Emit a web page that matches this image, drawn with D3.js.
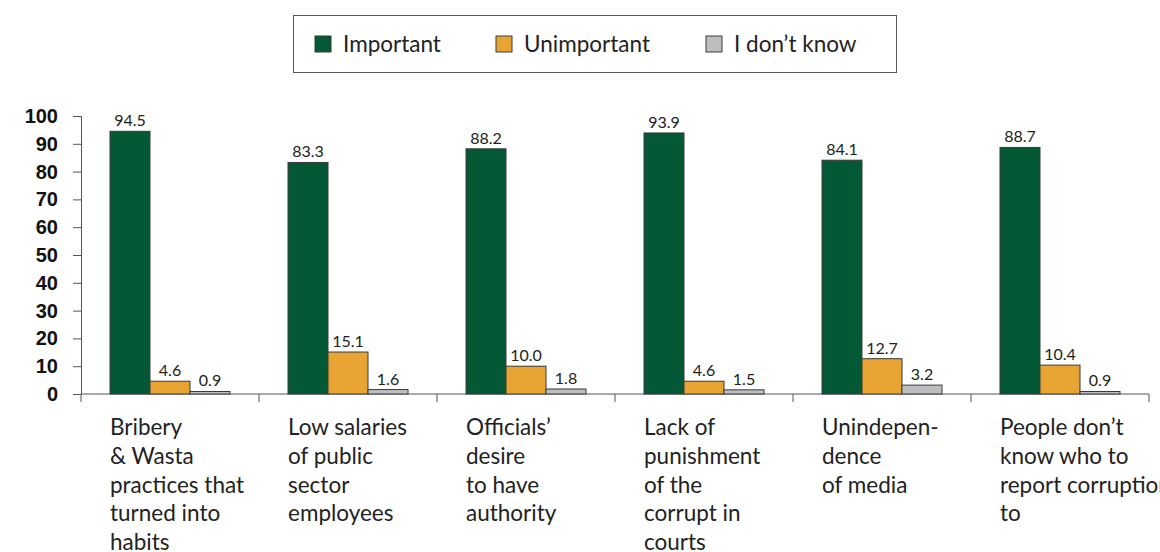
<!DOCTYPE html>
<html>
<head>
<meta charset="utf-8">
<script src="https://cdn.jsdelivr.net/npm/d3@7"></script>
<style>
  html, body { margin: 0; padding: 0; background: #fff; }
  svg { display: block; }
</style>
</head>
<body>
<svg id="chart" width="1160" height="552"></svg>
<script>
// Reasons for corruption: share of respondents rating each as important
const categories = [
  ["Bribery", "& Wasta", "practices that", "turned into", "habits"],
  ["Low salaries", "of public", "sector", "employees"],
  ["Officials\u2019", "desire", "to have", "authority"],
  ["Lack of", "punishment", "of the", "corrupt in", "courts"],
  ["Unindepen-", "dence", "of media"],
  ["People don\u2019t", "know who to", "report corruption", "to"]
];
const seriesNames = ["Important", "Unimportant", "I don\u2019t know"];
const important   = [94.5, 83.3, 88.2, 93.9, 84.1, 88.7];
const unimportant = [4.6, 15.1, 10.0, 4.6, 12.7, 10.4];
const dontKnow    = [0.9, 1.6, 1.8, 1.5, 3.2, 0.9];
const yTicks = [0, 10, 20, 30, 40, 50, 60, 70, 80, 90, 100];

const colors = ["#035836", "#E8A433", "#BDBEC0"];
const series = [important, unimportant, dontKnow];

const svg = d3.select("#chart");
const plotLeft = 81, plotRight = 1149, plotTop = 116, plotBottom = 394;

const x = d3.scaleBand()
  .domain(d3.range(categories.length))
  .range([plotLeft, plotRight])
  .paddingInner(0).paddingOuter(0);

const xInner = d3.scaleBand()
  .domain(d3.range(series.length))
  .range([0, x.bandwidth()])
  .paddingOuter(0.725);

const y = d3.scaleLinear().domain([0, 100]).range([plotBottom, plotTop]);

// y axis
const yAxis = svg.append("g")
  .attr("transform", `translate(${plotLeft},0)`)
  .call(d3.axisLeft(y).tickValues(yTicks).tickSize(8).tickPadding(15));
yAxis.select(".domain").attr("stroke", "#555");
yAxis.selectAll(".tick line").attr("stroke", "#555");
yAxis.selectAll(".tick text")
  .attr("fill", "#111")
  .style("font-family", "'Liberation Sans', Arial, sans-serif")
  .style("font-weight", "bold")
  .style("font-size", "20px");

// x axis
const xAxis = svg.append("g")
  .attr("transform", `translate(0,${plotBottom})`);
xAxis.append("line")
  .attr("x1", plotLeft).attr("x2", plotRight)
  .attr("y1", 0).attr("y2", 0)
  .attr("stroke", "#555");
xAxis.selectAll("line.tick")
  .data(d3.range(categories.length + 1))
  .join("line")
  .attr("class", "tick")
  .attr("x1", i => i < categories.length ? x(i) : plotRight)
  .attr("x2", i => i < categories.length ? x(i) : plotRight)
  .attr("y1", 0).attr("y2", 8)
  .attr("stroke", "#555");

// bars
const groups = svg.append("g").selectAll("g")
  .data(categories.map((c, i) => i))
  .join("g")
  .attr("transform", i => `translate(${x(i)},0)`);

groups.selectAll("rect")
  .data(i => series.map((s, k) => ({ k, v: s[i] })))
  .join("rect")
  .attr("x", d => xInner(d.k))
  .attr("width", xInner.bandwidth())
  .attr("y", d => y(d.v))
  .attr("height", d => plotBottom - y(d.v))
  .attr("fill", d => colors[d.k])
  .attr("stroke", "#3a3a3a")
  .attr("stroke-width", 1);

groups.selectAll("text.val")
  .data(i => series.map((s, k) => ({ k, v: s[i] })))
  .join("text")
  .attr("class", "val")
  .attr("x", d => xInner(d.k) + xInner.bandwidth() / 2)
  .attr("y", d => y(d.v) - 5)
  .attr("text-anchor", "middle")
  .attr("fill", "#222")
  .style("font-family", "Lato, 'Open Sans', sans-serif")
  .style("font-size", "16px")
  .text(d => d.v.toFixed(1));

// category labels
svg.append("g").selectAll("text")
  .data(categories)
  .join("text")
  .attr("x", (d, i) => x(i) + xInner(0))
  .attr("y", 435)
  .attr("fill", "#222")
  .style("font-family", "Lato, 'Open Sans', sans-serif")
  .style("font-size", "22.5px")
  .each(function (lines) {
    d3.select(this).selectAll("tspan")
      .data(lines)
      .join("tspan")
      .attr("x", d3.select(this).attr("x"))
      .attr("dy", (l, j) => j === 0 ? 0 : 28.8)
      .text(l => l);
  });

// legend
const legend = svg.append("g");
legend.append("rect")
  .attr("x", 293.5).attr("y", 15.5)
  .attr("width", 603).attr("height", 57)
  .attr("fill", "#fff")
  .attr("stroke", "#555");
const legendX = [315, 496, 706];
const items = legend.selectAll("g.item")
  .data(seriesNames)
  .join("g")
  .attr("class", "item")
  .attr("transform", (d, i) => `translate(${legendX[i]},36)`);
items.append("rect")
  .attr("width", 16).attr("height", 16)
  .attr("fill", (d, i) => colors[i])
  .attr("stroke", "#3a3a3a");
items.append("text")
  .attr("x", 28).attr("y", 16)
  .attr("fill", "#222")
  .style("font-family", "Lato, 'Open Sans', sans-serif")
  .style("font-size", "22.5px")
  .text(d => d);
</script>
</body>
</html>
